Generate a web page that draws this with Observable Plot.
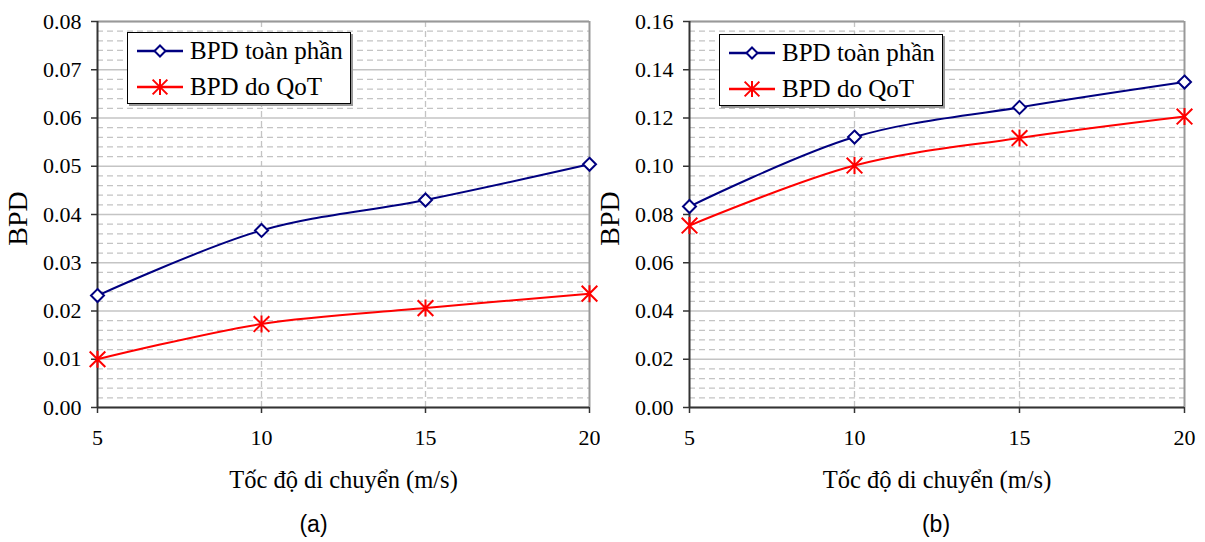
<!DOCTYPE html>
<html><head><meta charset="utf-8">
<script src="https://cdn.jsdelivr.net/npm/d3@7"></script>
<script src="https://cdn.jsdelivr.net/npm/@observablehq/plot@0.6"></script>
<style>
body{margin:0;background:#fff;}
#wrap{position:relative;width:1205px;height:542px;overflow:hidden;font-family:"Times New Roman","Liberation Serif",Tinos,"DejaVu Serif",serif;}
.panel{position:absolute;top:0;}
.panel text{font-family:"Times New Roman","Liberation Serif",Tinos,"DejaVu Serif",serif;}
.panel text.cap{font-family:Arial,"Liberation Sans",sans-serif;}
.legend{position:absolute;width:224px;height:72px;border:1.5px solid #000;background:#fff;box-shadow:2px 2px 0 #999;box-sizing:border-box;}
.row{position:absolute;left:0;height:30px;display:flex;align-items:center;font-size:25px;white-space:nowrap;color:#000;}
.row svg{margin-left:9px;margin-right:7px;}
</style></head>
<body>
<div id="wrap"></div>
<script>
// ---- data ----
const speeds = [5, 10, 15, 20];
const seriesNames = ["BPD toàn phần", "BPD do QoT"];
const totalA = [0.0232, 0.0367, 0.0430, 0.0504];
const qotA   = [0.0100, 0.0173, 0.0206, 0.0236];
const totalB = [0.0833, 0.1121, 0.1244, 0.1349];
const qotB   = [0.0754, 0.1003, 0.1117, 0.1206];
const xTicks = [5, 10, 15, 20];
const yTicksA = [0, 0.01, 0.02, 0.03, 0.04, 0.05, 0.06, 0.07, 0.08];
const yTicksB = [0, 0.02, 0.04, 0.06, 0.08, 0.10, 0.12, 0.14, 0.16];
const xTitle = "Tốc độ di chuyển (m/s)";
const yTitle = "BPD";
const captions = ["(a)", "(b)"];

const blue = "#000080", red = "#ff0000";
const serif = '"Times New Roman","Liberation Serif",Tinos,"DejaVu Serif",serif';

const diamond = {draw(ctx, size){const r = Math.sqrt(size/Math.PI); ctx.moveTo(0,-r); ctx.lineTo(r,0); ctx.lineTo(0,r); ctx.lineTo(-r,0); ctx.closePath();}};
const star = {draw(ctx, size){const r = Math.sqrt(size/Math.PI); const d = r*0.92; ctx.moveTo(0,-r); ctx.lineTo(0,r); ctx.moveTo(-d,-d); ctx.lineTo(d,d); ctx.moveTo(-d,d); ctx.lineTo(d,-d);}};

function minorTicks(major){
  const step = (major[1]-major[0])/5;
  const out = [];
  for (let i = 0; i < major.length-1; i++) for (let k = 1; k < 5; k++) out.push(major[i] + k*step);
  return out;
}

function panel({total, qot, yTicks, ml, mr, width, left, caption, capDx, legendLeft, legendTop}){
  const rows1 = speeds.map((s,i) => ({s, v: total[i]}));
  const rows2 = speeds.map((s,i) => ({s, v: qot[i]}));
  const ymax = yTicks[yTicks.length-1];
  const chart = Plot.plot({
    width, height: 542,
    marginLeft: ml, marginRight: mr, marginTop: 21, marginBottom: 135,
    style: {fontFamily: serif, background: "#fff", color: "#000", overflow: "visible"},
    x: {domain: [5, 20]},
    y: {domain: [0, ymax]},
    marks: [
      Plot.ruleY(minorTicks(yTicks), {stroke: "#c4c4c4", strokeWidth: 1.3, strokeDasharray: "6,4"}),
      Plot.ruleY(yTicks, {stroke: "#c4c4c4", strokeWidth: 1.5}),
      Plot.ruleX(xTicks.slice(1, -1), {stroke: "#c4c4c4", strokeWidth: 1.3, strokeDasharray: "6,4"}),
      Plot.ruleY([ymax], {stroke: "#999", strokeWidth: 2}),
      Plot.ruleX([20], {stroke: "#999", strokeWidth: 2}),
      Plot.ruleX([5], {stroke: "#333", strokeWidth: 2}),
      Plot.ruleY([0], {stroke: "#333", strokeWidth: 2}),
      Plot.axisY({ticks: yTicks, tickFormat: d => d.toFixed(2), tickSize: 6, tickPadding: 10, fontSize: 22, fontFamily: serif, label: null, stroke: "#333", strokeWidth: 1.5}),
      Plot.axisX({ticks: xTicks, tickFormat: d => String(d), tickSize: 6, tickPadding: 16, fontSize: 22, fontFamily: serif, label: null, stroke: "#333", strokeWidth: 1.5}),
      Plot.text([yTitle], {frameAnchor: "left", rotate: -90, dx: -79, dy: 4, fontSize: 28, fontFamily: serif, textAnchor: "middle", lineAnchor: "middle"}),
      Plot.text([xTitle], {frameAnchor: "bottom", dy: 73, fontSize: 24.5, fontFamily: serif, lineAnchor: "middle"}),
      Plot.text([caption], {frameAnchor: "bottom", dx: capDx, dy: 117, fontSize: 23, lineAnchor: "middle", fontFamily: 'Arial,"Liberation Sans",sans-serif', className: "cap"}),
      Plot.line(rows1, {x: "s", y: "v", stroke: blue, strokeWidth: 2, curve: "catmull-rom"}),
      Plot.line(rows2, {x: "s", y: "v", stroke: red, strokeWidth: 2, curve: "catmull-rom"}),
      Plot.dot(rows1, {x: "s", y: "v", symbol: diamond, r: 6.5, fill: "#fff", stroke: blue, strokeWidth: 2}),
      Plot.dot(rows2, {x: "s", y: "v", symbol: star, r: 8.5, fill: "none", stroke: red, strokeWidth: 2})
    ]
  });
  chart.classList.add("panel");
  chart.style.left = left + "px";
  chart.querySelectorAll("text").forEach(t => {
    if (t.textContent === caption) t.setAttribute("class", "cap");
  });
  const wrap = document.getElementById("wrap");
  wrap.appendChild(chart);

  // legend
  const lg = document.createElement("div");
  lg.className = "legend";
  lg.style.left = legendLeft + "px";
  lg.style.top = legendTop + "px";
  const sw = (color, sym) => {
    const svg = d3.create("svg").attr("width", 46).attr("height", 20);
    svg.append("line").attr("x1", 0).attr("x2", 46).attr("y1", 10).attr("y2", 10).attr("stroke", color).attr("stroke-width", 2.5);
    svg.append("path").attr("transform", "translate(23,10)")
      .attr("d", d3.symbol(sym, Math.PI * (sym === diamond ? 5.5*5.5 : 8*8))())
      .attr("fill", sym === diamond ? "#fff" : "none").attr("stroke", color).attr("stroke-width", 2);
    return svg.node();
  };
  [[blue, diamond], [red, star]].forEach(([c, s], i) => {
    const row = document.createElement("div");
    row.className = "row";
    row.style.top = (i === 0 ? 3 : 39) + "px";
    row.appendChild(sw(c, s));
    const t = document.createElement("span");
    t.textContent = seriesNames[i];
    row.appendChild(t);
    lg.appendChild(row);
  });
  wrap.appendChild(lg);
}

panel({total: totalA, qot: qotA, yTicks: yTicksA, ml: 97, mr: 11, width: 600, left: 0, caption: captions[0], capDx: -30, legendLeft: 127, legendTop: 32});
panel({total: totalB, qot: qotB, yTicks: yTicksB, ml: 89, mr: 21, width: 605, left: 600, caption: captions[1], capDx: -1, legendLeft: 719, legendTop: 34});
</script>
</body></html>
